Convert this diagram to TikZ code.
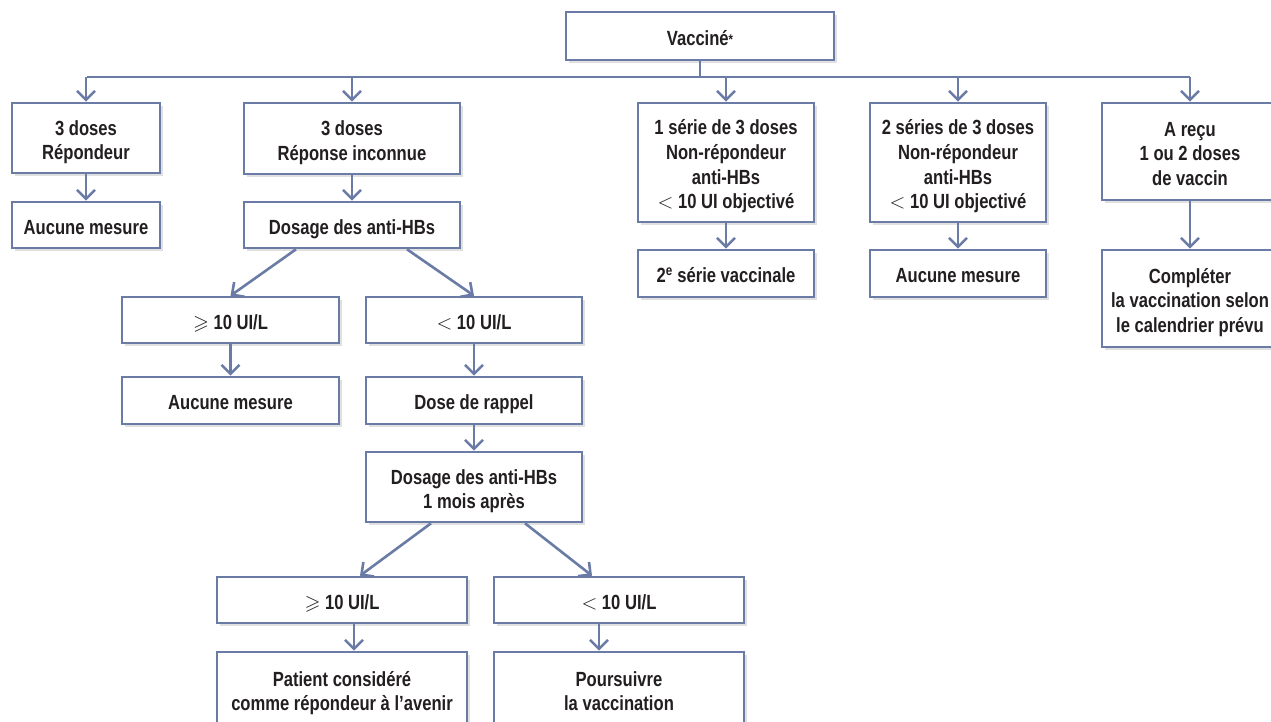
\documentclass[tikz,border=0pt]{standalone}
\usepackage{amssymb}
\usepackage{fontspec}
\setmainfont{Liberation Sans}[FakeStretch=0.81, UprightFont=*-Bold]
\usetikzlibrary{arrows.meta,shadows}
\definecolor{lineblue}{HTML}{6A7BA6}
\definecolor{txt}{HTML}{231F20}
\newcommand\bxt[1]{\raisebox{-4.5pt}[\height][\depth]{\begin{tabular}{@{}c@{}}#1\end{tabular}}}
\tikzset{
  box/.style={draw=lineblue, line width=2.6pt, fill=white, inner sep=0pt,
    text=txt, font=\fontsize{20.5}{24.7}\selectfont,
    drop shadow={shadow xshift=3pt, shadow yshift=-3pt, opacity=0.12, fill=black}},
  conn/.style={draw=lineblue, line width=2.6pt},
  arr/.style={conn, -{Straight Barb[length=9pt,width=18pt,line width=2.6pt]}}
}
\begin{document}
\begin{tikzpicture}[x=1pt,y=-1pt]
\useasboundingbox (0,0) rectangle (1271,721);
\fill[white] (0,0) rectangle (1271,721);
\clip (0,0) rectangle (1271,721);
% top
\node[box, minimum width=268pt, minimum height=48pt] (v) at (700,36) {\bxt{Vaccin\'e\raisebox{1pt}{\fontsize{14}{14}\selectfont*}}};
% column A
\node[box, minimum width=148pt, minimum height=70pt] (a1) at (86,138) {\bxt{3 doses\\R\'epondeur}};
\node[box, minimum width=148pt, minimum height=46pt] (a2) at (86,225) {\bxt{Aucune mesure}};
% column B
\node[box, minimum width=216pt, minimum height=71pt] (b1) at (352,138.5) {\bxt{3 doses\\R\'eponse inconnue}};
\node[box, minimum width=216pt, minimum height=46pt] (b2) at (352,225) {\bxt{Dosage des anti-HBs}};
\node[box, minimum width=217pt, minimum height=46pt] (c1) at (230.5,320) {\bxt{$\geqslant$ 10 UI/L}};
\node[box, minimum width=216pt, minimum height=46pt] (c2) at (474,320) {\bxt{$<$ 10 UI/L}};
\node[box, minimum width=217pt, minimum height=47pt] (c3) at (230.5,400.5) {\bxt{Aucune mesure}};
\node[box, minimum width=216pt, minimum height=47pt] (c4) at (474,400.5) {\bxt{Dose de rappel}};
\node[box, minimum width=216pt, minimum height=70pt] (d1) at (474,487) {\bxt{Dosage des anti-HBs\\1 mois apr\`es}};
\node[box, minimum width=250pt, minimum height=46pt] (e1) at (342,600) {\bxt{$\geqslant$ 10 UI/L}};
\node[box, minimum width=250pt, minimum height=46pt] (e2) at (619,600) {\bxt{$<$ 10 UI/L}};
\node[box, minimum width=250pt, minimum height=74pt] (f1) at (342,689) {\bxt{Patient consid\'er\'e\\comme r\'epondeur \`a l'avenir}};
\node[box, minimum width=250pt, minimum height=74pt] (f2) at (619,689) {\bxt{Poursuivre\\la vaccination}};
% column G
\node[box, minimum width=176pt, minimum height=119pt] (g1) at (726,162.5) {\bxt{1 s\'erie de 3 doses\\Non-r\'epondeur\\anti-HBs\\$<$ 10 UI objectiv\'e}};
\node[box, minimum width=176pt, minimum height=47pt] (g2) at (726,273.5) {\bxt{2\textsuperscript{e} s\'erie vaccinale}};
% column H
\node[box, minimum width=176pt, minimum height=119pt] (h1) at (958,162.5) {\bxt{2 s\'eries de 3 doses\\Non-r\'epondeur\\anti-HBs\\$<$ 10 UI objectiv\'e}};
\node[box, minimum width=176pt, minimum height=47pt] (h2) at (958,273.5) {\bxt{Aucune mesure}};
% column I
\node[box, minimum width=176pt, minimum height=97pt] (i1) at (1190,151.5) {\bxt{A re\c{c}u\\1 ou 2 doses\\de vaccin}};
\node[box, minimum width=176pt, minimum height=97pt] (i2) at (1190,298.5) {\bxt{Compl\'eter\\la vaccination selon\\le calendrier pr\'evu}};
% bus
\coordinate (bus) at (700,77);
\coordinate (busL) at (87,77);
\coordinate (busR) at (1190,77);
\draw[conn] (v.south) -- (bus);
\draw[conn] (busL) -- (busR);
\draw[arr] (a1.north |- bus) -- (a1.north);
\draw[arr] (b1.north |- bus) -- (b1.north);
\draw[arr] (g1.north |- bus) -- (g1.north);
\draw[arr] (h1.north |- bus) -- (h1.north);
\draw[arr] (i1.north |- bus) -- (i1.north);
% verticals
\draw[arr] (a1) -- (a2);
\draw[arr] (b1) -- (b2);
\draw[arr] (c1) -- (c3);
\draw[arr] (c2) -- (c4);
\draw[arr] (c4) -- (d1);
\draw[arr] (g1) -- (g2);
\draw[arr] (h1) -- (h2);
\draw[arr] (i1) -- (i2);
\draw[arr] ([xshift=12pt]e1.south) -- ([xshift=12pt]e1.south |- f1.north);
\draw[arr] ([xshift=-20pt]e2.south) -- ([xshift=-20pt]e2.south |- f2.north);
% diagonals
\draw[arr] ([xshift=-56pt]b2.south) -- (c1.north);
\draw[arr] ([xshift=55pt]b2.south) -- (c2.north);
\draw[arr] ([xshift=-43pt]d1.south) -- ([xshift=18pt]e1.north);
\draw[arr] ([xshift=51pt]d1.south) -- ([xshift=-27pt]e2.north);
\end{tikzpicture}
\end{document}
